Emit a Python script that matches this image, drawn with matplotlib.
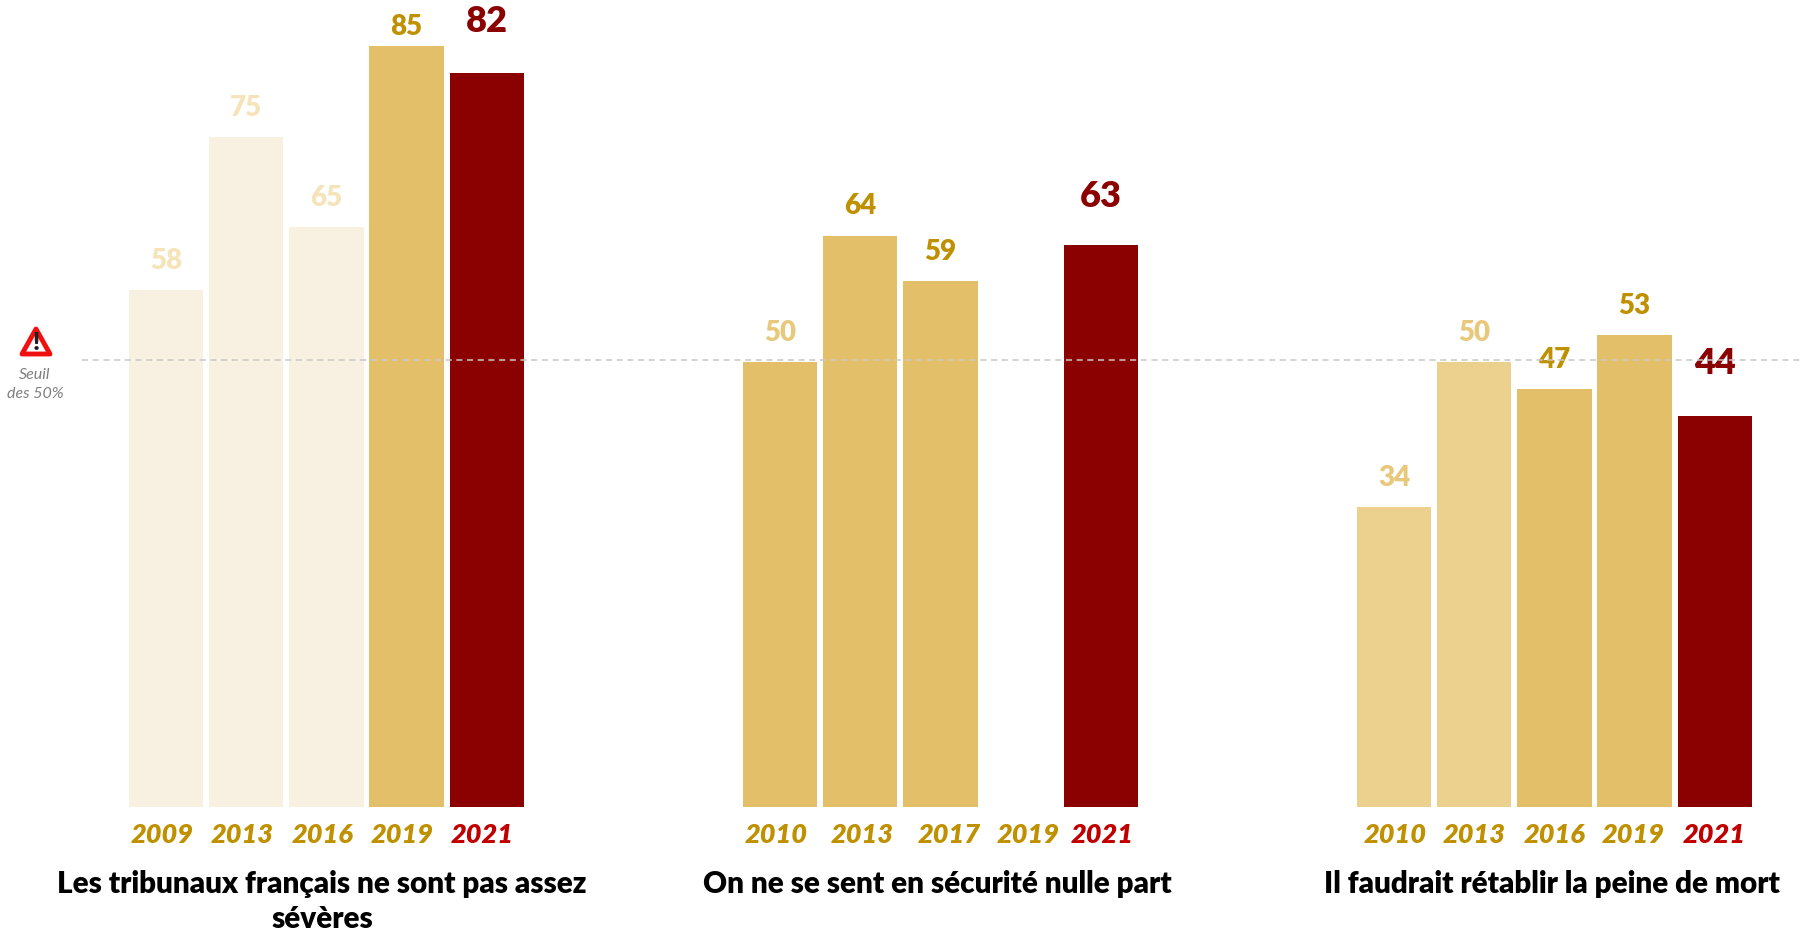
import matplotlib
matplotlib.use('Agg')
from matplotlib import pyplot as plt
from matplotlib.patches import Polygon

plt.rcParams['font.family'] = ['Lato', 'DejaVu Sans']

# Data
titles = ['Les tribunaux français ne sont pas assez\nsévères',
          'On ne se sent en sécurité nulle part',
          'Il faudrait rétablir la peine de mort']
years_1 = ['2009', '2013', '2016', '2019', '2021']
years_2 = ['2010', '2013', '2017', '2019', '2021']
years_3 = ['2010', '2013', '2016', '2019', '2021']
values_1 = [58, 75, 65, 85, 82]
values_2 = [50, 64, 59, None, 63]
values_3 = [34, 50, 47, 53, 44]
threshold = 50

# Styles per bar
PALE, MID, GOLD, RED = '#F8F0E0', '#EBD08E', '#E3BF6A', '#8B0000'
bar_colors = [[PALE, PALE, PALE, GOLD, RED],
              [GOLD, GOLD, GOLD, GOLD, RED],
              [MID, MID, GOLD, GOLD, RED]]
label_colors = [['#F5E3B9', '#F5E3B9', '#F5E3B9', '#BF9000', RED],
                ['#E8C87A', '#BF9000', '#BF9000', '#BF9000', RED],
                ['#E8C87A', '#E8C87A', '#BF9000', '#BF9000', RED]]

# Layout, in figure pixels
W, H = 1800, 932
ZERO = 813.8          # the value axis starts a little above zero
PX_PER_UNIT = 9.03
AXIS_START = 0.7
PITCH = 80.2
BAR_W = 74.5
starts = [166, 780, 1394]
year_shift = [[-4, -4, -4, -4, -5],
              [-4, 1.5, 8.5, 7.5, 1],
              [1, 0, 0, -1, -1]]
label_lift = [[29, 29, 29, 19, 52],
              [29, 30, 29, 0, 48],
              [29, 29, 29, 29, 53]]
title_x = [322, 937, 1552]

fig = plt.figure(figsize=(W / 100, H / 100), dpi=100)
ax = fig.add_axes([0, 0, 1, 1])
ax.set_xlim(0, W)
ax.set_ylim((ZERO - H) / PX_PER_UNIT, ZERO / PX_PER_UNIT)
ax.axis('off')

groups = [(years_1, values_1), (years_2, values_2), (years_3, values_3)]
for g, (years, values) in enumerate(groups):
    for i, (year, val) in enumerate(zip(years, values)):
        x = starts[g] + i * PITCH
        last = i == len(values) - 1
        if val is not None:
            ax.bar(x, val - AXIS_START, bottom=AXIS_START, width=BAR_W,
                   color=bar_colors[g][i], zorder=2)
            ax.annotate(str(val), (x, val), xytext=(0, label_lift[g][i]),
                        textcoords='offset pixels', ha='center', va='center',
                        fontsize=26 if last else 20, fontweight='heavy',
                        color=label_colors[g][i], zorder=3)
        ax.annotate(year, (x + year_shift[g][i], AXIS_START), xytext=(0, -27.5),
                    textcoords='offset pixels', ha='center', va='center',
                    fontsize=19.5, fontweight='heavy', style='italic',
                    color='#C00000' if last else '#BF9000')
    ax.annotate(titles[g], (title_x[g], AXIS_START), xytext=(0, -63),
                textcoords='offset pixels', ha='center', va='top',
                fontsize=21.3, fontweight='heavy', color='black', linespacing=1.28)

# 50% line
ax.plot([82, W], [threshold + 0.3] * 2, color='#C8C8C8', lw=1.1,
        dashes=(4, 3), zorder=4)

# warning sign and its caption, placed in figure pixels
def px(x, y):
    return (x / W, 1 - y / H)

tri = Polygon([px(36, 329), px(22, 354), px(50, 354)], closed=True,
              transform=fig.transFigure, fc='white', ec='#F01010', lw=3.5,
              joinstyle='round')
fig.add_artist(tri)
fig.text(*px(36, 343), '!', ha='center', va='center', fontsize=18,
         fontweight='heavy', color='#222222')
fig.text(*px(35, 375), 'Seuil', ha='center', va='center', fontsize=11.5,
         style='italic', color='#7F7F7F')
fig.text(*px(35, 394), 'des 50%', ha='center', va='center', fontsize=11.5,
         style='italic', color='#7F7F7F')

fig.savefig('out.png', dpi=100)
